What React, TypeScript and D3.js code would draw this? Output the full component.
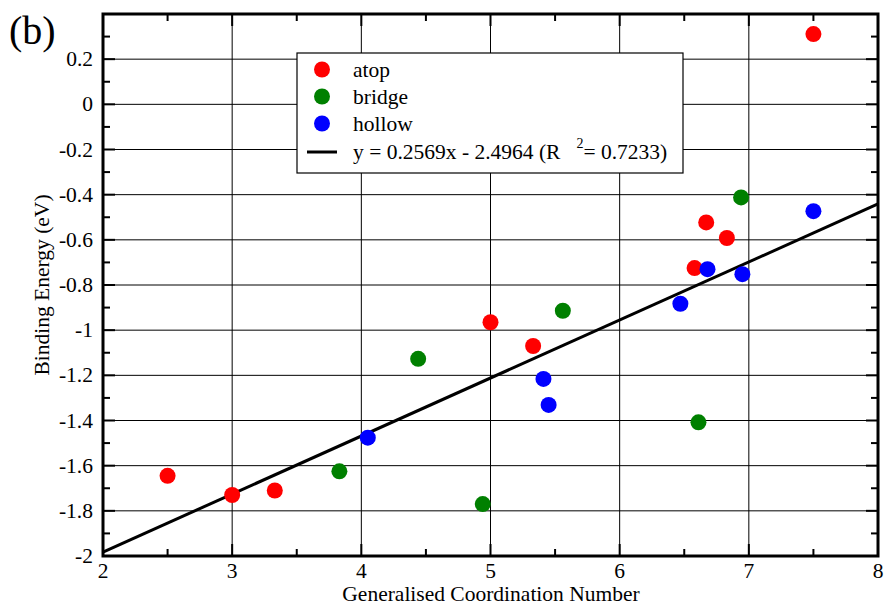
import React, { useRef, useEffect } from 'react';
import * as d3 from 'd3';

// Binding energy vs generalised coordination number
const atopX = [2.5, 3.0, 3.33, 5.0, 5.33, 6.58, 6.67, 6.83, 7.5];
const atopY = [-1.645, -1.73, -1.71, -0.965, -1.07, -0.725, -0.523, -0.592, 0.311];
const bridgeX = [3.83, 4.44, 4.94, 5.56, 6.61, 6.94];
const bridgeY = [-1.625, -1.127, -1.77, -0.914, -1.408, -0.412];
const hollowX = [4.05, 5.41, 5.45, 6.47, 6.68, 6.95, 7.5];
const hollowY = [-1.476, -1.216, -1.331, -0.883, -0.73, -0.752, -0.473];
const fitSlope = 0.2569;
const fitIntercept = -2.4964;
const xTicks = [2, 3, 4, 5, 6, 7, 8];
const yTicks = [-2, -1.8, -1.6, -1.4, -1.2, -1, -0.8, -0.6, -0.4, -0.2, 0, 0.2];

const App = () => {
  const chartRef = useRef<HTMLDivElement>(null);

  useEffect(() => {
    drawChart();
  }, []);

  const drawChart = () => {
    const width = 885;
    const height = 606;
    const left = 103, right = 878, top = 14, bottom = 556;
    const font = '"Liberation Serif", "Times New Roman", serif';
    const fs = '21.5px';

    d3.select(chartRef.current).selectAll('*').remove();

    const svg = d3
      .select(chartRef.current)
      .append('svg')
      .attr('width', width)
      .attr('height', height)
      .style('display', 'block')
      .style('background', '#fff');

    const x = d3.scaleLinear().domain([2, 8]).range([left, right]);
    const y = d3.scaleLinear().domain([-2, 0.4]).range([bottom, top]);

    // grid
    svg.append('g')
      .selectAll('line')
      .data(xTicks.slice(1, -1))
      .enter()
      .append('line')
      .attr('x1', (d) => x(d)).attr('x2', (d) => x(d))
      .attr('y1', top).attr('y2', bottom)
      .attr('stroke', '#000').attr('stroke-width', 1);
    svg.append('g')
      .selectAll('line')
      .data(yTicks.slice(1))
      .enter()
      .append('line')
      .attr('x1', left).attr('x2', right)
      .attr('y1', (d) => y(d)).attr('y2', (d) => y(d))
      .attr('stroke', '#000').attr('stroke-width', 1);

    // ticks (inward, all four sides)
    const xMinor = d3.range(2.5, 8, 1);
    const yMinor = d3.range(-1.9, 0.4, 0.2);
    const tickG = svg.append('g').attr('stroke', '#000').attr('stroke-width', 2);
    xTicks.forEach((t) => {
      tickG.append('line').attr('x1', x(t)).attr('x2', x(t)).attr('y1', bottom).attr('y2', bottom - 12);
      tickG.append('line').attr('x1', x(t)).attr('x2', x(t)).attr('y1', top).attr('y2', top + 12);
    });
    xMinor.forEach((t) => {
      tickG.append('line').attr('x1', x(t)).attr('x2', x(t)).attr('y1', bottom).attr('y2', bottom - 7);
      tickG.append('line').attr('x1', x(t)).attr('x2', x(t)).attr('y1', top).attr('y2', top + 7);
    });
    yTicks.forEach((t) => {
      tickG.append('line').attr('x1', left).attr('x2', left + 12).attr('y1', y(t)).attr('y2', y(t));
      tickG.append('line').attr('x1', right).attr('x2', right - 12).attr('y1', y(t)).attr('y2', y(t));
    });
    yMinor.forEach((t) => {
      tickG.append('line').attr('x1', left).attr('x2', left + 7).attr('y1', y(t)).attr('y2', y(t));
      tickG.append('line').attr('x1', right).attr('x2', right - 7).attr('y1', y(t)).attr('y2', y(t));
    });

    // tick labels
    svg.append('g')
      .selectAll('text')
      .data(xTicks)
      .enter()
      .append('text')
      .attr('x', (d) => x(d))
      .attr('y', 578)
      .attr('text-anchor', 'middle')
      .style('font-family', font)
      .style('font-size', fs)
      .text((d) => d);
    svg.append('g')
      .selectAll('text')
      .data(yTicks)
      .enter()
      .append('text')
      .attr('x', 93)
      .attr('y', (d) => y(d) + 7)
      .attr('text-anchor', 'end')
      .style('font-family', font)
      .style('font-size', fs)
      .text((d) => (d === 0 ? '0' : String(d)));

    // axis titles
    svg.append('text')
      .attr('x', 491).attr('y', 601)
      .attr('text-anchor', 'middle')
      .style('font-family', font).style('font-size', fs)
      .text('Generalised Coordination Number');
    svg.append('text')
      .attr('transform', `translate(49,${(top + bottom) / 2}) rotate(-90)`)
      .attr('text-anchor', 'middle')
      .style('font-family', font).style('font-size', fs)
      .text('Binding Energy (eV)');

    svg.append('text')
      .attr('x', 9).attr('y', 44)
      .style('font-family', font).style('font-size', '40px')
      .text('(b)');

    // fit line
    const line = d3.line<number>().x((d) => x(d)).y((d) => y(fitSlope * d + fitIntercept));
    svg.append('path')
      .datum([2, 8])
      .attr('d', line)
      .attr('fill', 'none')
      .attr('stroke', '#000')
      .attr('stroke-width', 3);

    // points
    const series = [
      { xs: atopX, ys: atopY, color: '#ff0000' },
      { xs: bridgeX, ys: bridgeY, color: '#008000' },
      { xs: hollowX, ys: hollowY, color: '#0000ff' },
    ];
    series.forEach((s) => {
      svg.append('g')
        .selectAll('circle')
        .data(s.xs)
        .enter()
        .append('circle')
        .attr('cx', (d) => x(d))
        .attr('cy', (d, i) => y(s.ys[i]))
        .attr('r', 8)
        .attr('fill', s.color);
    });

    // frame
    svg.append('rect')
      .attr('x', left).attr('y', top)
      .attr('width', right - left).attr('height', bottom - top)
      .attr('fill', 'none').attr('stroke', '#000').attr('stroke-width', 3);

    // legend
    const lg = svg.append('g');
    lg.append('rect')
      .attr('x', 297).attr('y', 53).attr('width', 386).attr('height', 120)
      .attr('fill', '#fff').attr('stroke', '#000').attr('stroke-width', 1.2);
    const names = ['atop', 'bridge', 'hollow'];
    names.forEach((n, i) => {
      const cy = 69.5 + i * 27;
      lg.append('circle').attr('cx', 322).attr('cy', cy).attr('r', 8).attr('fill', series[i].color);
      lg.append('text')
        .attr('x', 353).attr('y', cy + 7)
        .style('font-family', font).style('font-size', fs)
        .text(n);
    });
    lg.append('line')
      .attr('x1', 307).attr('x2', 337).attr('y1', 152).attr('y2', 152)
      .attr('stroke', '#000').attr('stroke-width', 3);
    const t = lg.append('text')
      .attr('x', 353).attr('y', 158.5)
      .style('font-family', font).style('font-size', fs);
    t.append('tspan').text('y = 0.2569x - 2.4964 (R');
    t.append('tspan').attr('dx', 16).attr('dy', -11).style('font-size', '14px').text('2');
    t.append('tspan').attr('dy', 11).text('= 0.7233)');
  };

  return <div ref={chartRef} style={{ position: 'absolute', left: 0, top: 0 }}></div>;
};

export default App;
